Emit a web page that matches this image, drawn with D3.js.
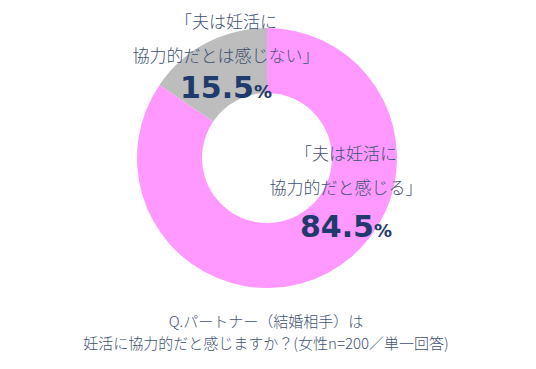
<!DOCTYPE html>
<html><head><meta charset="utf-8">
<script src="https://cdn.jsdelivr.net/npm/d3@7"></script>
<style>body{margin:0;background:#fff}</style>
</head><body>
<svg id="c" width="536" height="369"></svg>
<script>
const categories = ["夫は妊活に協力的だと感じる", "夫は妊活に協力的だとは感じない"];
const values = [84.5, 15.5];
const labelLines = [["「夫は妊活に", "協力的だと感じる」"], ["「夫は妊活に", "協力的だとは感じない」"]];
const valueLabels = ["84.5", "15.5"];
const titleLines = ["Q.パートナー（結婚相手）は", "妊活に協力的だと感じますか？(女性n=200／単一回答)"];
const colors = ["#ff99ff", "#bdbdbd"];

const svg = d3.select("#c");
const cx = 267, cy = 158, R = 130, r = 65;
const pie = d3.pie().sort(null).value(d => d)(values);
const arc = d3.arc().innerRadius(r).outerRadius(R);
const g = svg.append("g").attr("transform", `translate(${cx},${cy})`);
g.selectAll("path").data(pie).join("path").attr("d", arc).attr("fill", (d, i) => colors[i]);

const jp = "'Meiryo UI','Meiryo','Noto Sans CJK JP',sans-serif";
const labelPos = [{x: 346, y1: 160, y2: 194, yv: 237}, {x: 226, y1: 28, y2: 62, yv: 98}];
labelPos.forEach((p, i) => {
  const t = svg.append("text").attr("text-anchor", "middle").attr("font-family", jp)
    .attr("font-size", 17).attr("font-weight", 300).attr("fill", "#3f5273");
  t.append("tspan").attr("x", p.x).attr("y", p.y1).text(labelLines[i][0]);
  t.append("tspan").attr("x", p.x).attr("y", p.y2).text(labelLines[i][1]);
  const v = svg.append("text").attr("text-anchor", "middle").attr("x", p.x).attr("y", p.yv)
    .attr("font-family", "Verdana,'DejaVu Sans',sans-serif").attr("font-weight", "bold").attr("fill", "#1f3a6c");
  v.append("tspan").attr("font-size", 30).text(valueLabels[i]);
  v.append("tspan").attr("font-size", 18).text("%");
});

const tt = svg.append("text").attr("text-anchor", "middle").attr("font-family", jp)
  .attr("font-size", 15).attr("font-weight", 300).attr("fill", "#3f5273");
tt.append("tspan").attr("x", 266).attr("y", 327).text(titleLines[0]);
tt.append("tspan").attr("x", 266).attr("y", 349).text(titleLines[1]);
</script>
</body></html>
